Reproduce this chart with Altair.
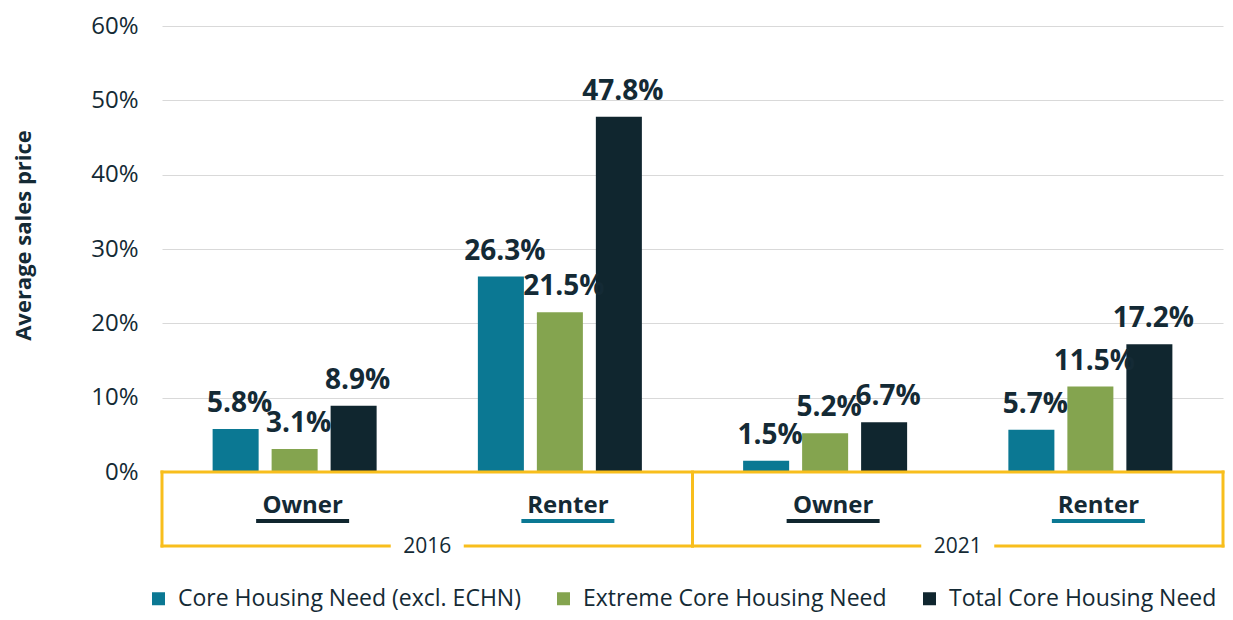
import altair as alt
import pandas as pd

# ---- data ----
years = ["2016", "2016", "2021", "2021"]
tenures = ["Owner", "Renter", "Owner", "Renter"]
series_names = ["Core Housing Need (excl. ECHN)", "Extreme Core Housing Need", "Total Core Housing Need"]
core_need = [5.8, 26.3, 1.5, 5.7]
extreme_need = [3.1, 21.5, 5.2, 11.5]
total_need = [8.9, 47.8, 6.7, 17.2]
y_ticks = [0, 10, 20, 30, 40, 50, 60]

# ---- styles ----
colors = ["#0b7893", "#84a44f", "#10262f"]
TXT = "#142a35"
YEL = "#f8be1c"
FONT = "Open Sans"
W, H = 1061, 446

slots = [f"{y} {t}" for y, t in zip(years, tenures)]
rows = []
for vals, s in zip([core_need, extreme_need, total_need], series_names):
    for slot, yr, t, v in zip(slots, years, tenures, vals):
        rows.append(dict(slot=slot, year=yr, tenure=t, series=s, value=v, label=f"{v:.1f}%"))
df = pd.DataFrame(rows)
cat_df = pd.DataFrame(dict(slot=slots, year=years, tenure=tenures))
year_df = pd.DataFrame(dict(year=[years[0], years[2]], slot=[slots[1], slots[3]]))
one = pd.DataFrame({"k": [0]})

x_scale = alt.Scale(domain=slots, paddingInner=0, paddingOuter=0)
x_enc = alt.X("slot:N", sort=slots, scale=x_scale, axis=None)
xoff = alt.XOffset("series:N", sort=series_names,
                   scale=alt.Scale(domain=series_names, paddingInner=0.22, paddingOuter=0.858))
y_enc = alt.Y(
    "value:Q",
    scale=alt.Scale(domain=[0, 60], nice=False),
    axis=alt.Axis(
        values=y_ticks, labelExpr="datum.value + '%'", domain=False, ticks=False,
        grid=True, gridColor="#d9d9d9", gridWidth=1,
        labelFont=FONT, labelFontSize=24, labelColor=TXT, labelPadding=24,
        title="Average sales price", titleFont=FONT, titleFontSize=22, titleFontWeight="bold",
        titleColor=TXT, titleX=-127, titleY=209, titleAngle=270, titleAlign="center",
        titleBaseline="bottom",
    ),
)
color_enc = alt.Color(
    "series:N", sort=series_names,
    scale=alt.Scale(domain=series_names, range=colors),
    legend=alt.Legend(
        orient="none", legendX=-15, legendY=561, direction="horizontal", columns=3,
        title=None, symbolType="square", symbolSize=169, symbolStrokeWidth=0,
        labelFont=FONT, labelFontSize=23, labelColor=TXT, labelOffset=8,
        columnPadding=31, padding=0, labelLimit=600,
    ),
)

base = alt.Chart(df)
bars = base.mark_bar().encode(x=x_enc, xOffset=xoff, y=y_enc, color=color_enc)
labels = base.mark_text(
    font=FONT, fontSize=28, fontWeight="bold", color=TXT, baseline="alphabetic", dy=-17, dx=4
).encode(x=x_enc, xOffset=xoff, y="value:Q", text="label:N")

# category labels and underlines
cat_text = alt.Chart(cat_df).mark_text(
    font=FONT, fontSize=24, fontWeight="bold", color=TXT, baseline="alphabetic", dx=8
).encode(x=x_enc, y=alt.value(487), text="tenure:N")
UOFF = W / 8 + 8
under_owner = alt.Chart(cat_df).transform_filter("datum.tenure == 'Owner'").mark_tick(
    color=colors[2], thickness=4, size=93, orient="horizontal", opacity=1
).encode(x=x_enc, xOffset=alt.XOffset(value=UOFF), y=alt.value(495))
under_renter = alt.Chart(cat_df).transform_filter("datum.tenure == 'Renter'").mark_tick(
    color=colors[0], thickness=4, size=93, orient="horizontal", opacity=1
).encode(x=x_enc, xOffset=alt.XOffset(value=UOFF), y=alt.value(495))

# yellow box around the category axis
BOT = H + 74
GAP = 38
def rule(x1, x2, y1, y2):
    return alt.Chart(one).mark_rule(color=YEL, strokeWidth=3, strokeCap="square").encode(
        x=alt.value(x1), x2=alt.value(x2), y=alt.value(y1), y2=alt.value(y2))

box = [
    rule(0, W, H, H),
    rule(0, 0, H, BOT),
    rule(W / 2, W / 2, H, BOT),
    rule(W, W, H, BOT),
    rule(0, W / 4 - GAP, BOT, BOT),
    rule(W / 4 + GAP, W / 2, BOT, BOT),
    rule(W / 2, 3 * W / 4 - GAP, BOT, BOT),
    rule(3 * W / 4 + GAP, W, BOT, BOT),
]

year_text = alt.Chart(year_df).mark_text(
    font=FONT, fontSize=21, color=TXT, baseline="alphabetic"
).encode(x=alt.X("slot:N", sort=slots, scale=x_scale, axis=None, bandPosition=0),
         y=alt.value(527), text="year:N")

chart = alt.layer(
    bars, labels, *box, cat_text, under_owner, under_renter, year_text
).properties(
    width=W, height=H,
    padding={"left": 154, "top": 18, "right": 2, "bottom": 140},
    autosize=alt.AutoSizeParams(type="none"),
    background="white",
).configure_view(stroke=None)

chart.save("out.html", embed_options={"renderer": "svg", "actions": False})
